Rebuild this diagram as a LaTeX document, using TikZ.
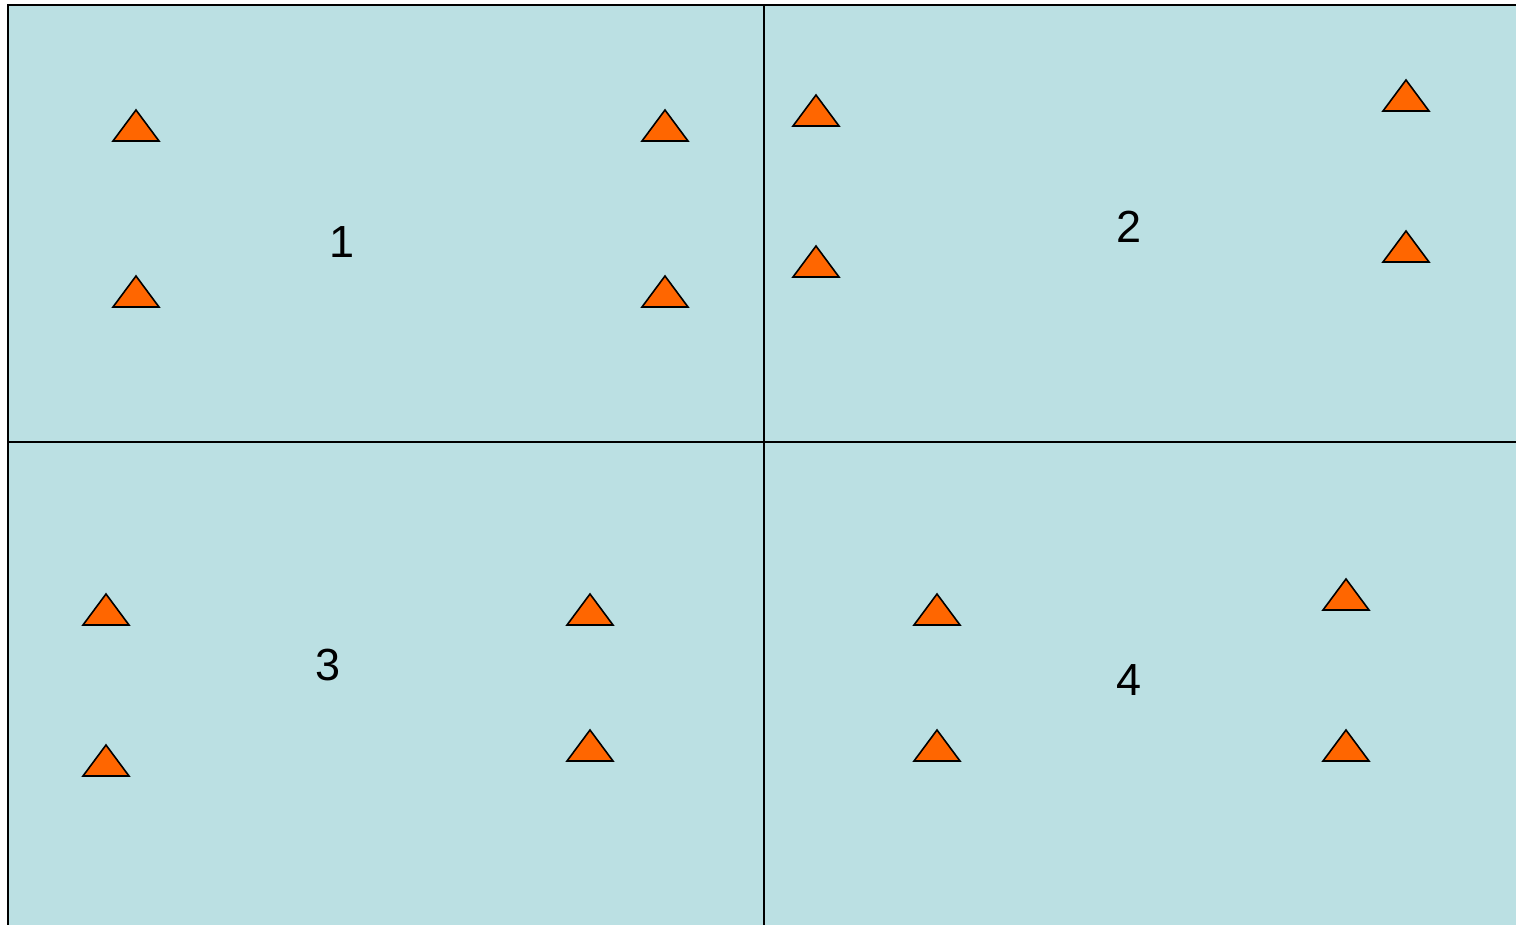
\documentclass[tikz,border=0pt]{standalone}
\usepackage{fontspec}
\setmainfont{Liberation Sans}
\definecolor{panelfill}{RGB}{187,224,227}
\definecolor{triorange}{RGB}{255,102,0}
\begin{document}
\begin{tikzpicture}[x=0.5pt,y=-0.5pt,
  panel/.style={fill=panelfill,draw=black,line width=1pt},
  divider/.style={draw=black,line width=1pt},
  marker/.style={fill=triorange,draw=black,line width=0.8pt,line join=miter},
  lbl/.style={font=\fontsize{22.5pt}{27pt}\selectfont,inner sep=0pt}]
\useasboundingbox (0,0) rectangle (1516,925);
\clip (0,0) rectangle (1516,925);
\path[panel] (8,5) rectangle (1540,950);
\draw[divider] (764,5) -- (764,950);
\draw[divider] (8,442) -- (1540,442);
% triangles: apex x, base y
\foreach \x/\y in {136/141,665/141,136/307,665/307,
                   816/126,1406/111,816/277,1406/262,
                   106/625,590/625,106/776,590/761,
                   937/625,1346/610,937/761,1346/761}{
  \path[marker] (\x-23,\y) -- (\x,\y-31) -- (\x+23,\y) -- cycle;
}
\node[lbl] (l1) at (342,242) {1};
\node[lbl] (l2) at (1129,227) {2};
\node[lbl] (l3) at (328,665) {3};
\node[lbl] (l4) at (1129,680) {4};
\end{tikzpicture}
\end{document}
